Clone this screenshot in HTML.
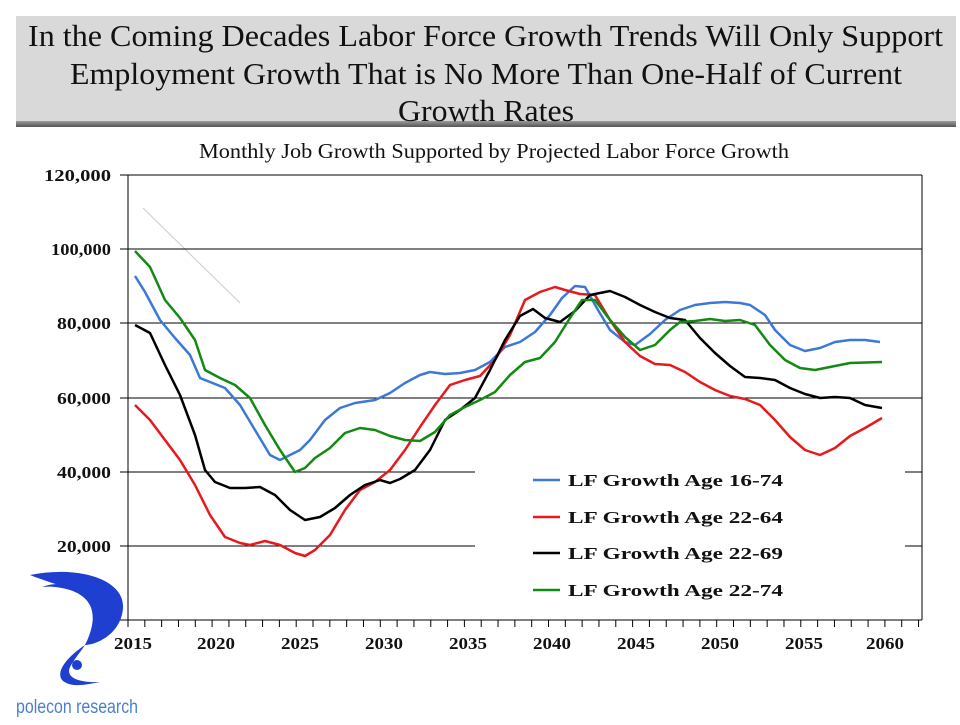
<!DOCTYPE html>
<html><head><meta charset="utf-8"><style>
body{margin:0;background:#fff;width:960px;height:720px;overflow:hidden;font-family:"Liberation Serif",serif}
</style></head><body>
<svg width="960" height="720" viewBox="0 0 960 720" xmlns="http://www.w3.org/2000/svg" font-family="Liberation Serif, serif">
<defs><linearGradient id="sh" x1="0" y1="0" x2="0" y2="1"><stop offset="0" stop-color="#9a9a9a"/><stop offset="1" stop-color="#555"/></linearGradient></defs>
<rect x="16" y="16" width="940" height="106" fill="#d9d9d9"/>
<rect x="16" y="121" width="940" height="6" fill="url(#sh)"/>
<g font-size="31" fill="#111">
<text x="28" y="46" textLength="915" lengthAdjust="spacingAndGlyphs">In the Coming Decades Labor Force Growth Trends Will Only Support</text>
<text x="70" y="84" textLength="832" lengthAdjust="spacingAndGlyphs">Employment  Growth That is No More Than One-Half of Current</text>
<text x="398" y="121" textLength="176" lengthAdjust="spacingAndGlyphs">Growth Rates</text>
</g>
<text x="199" y="158" font-size="21" fill="#111" textLength="590" lengthAdjust="spacingAndGlyphs">Monthly Job Growth Supported by Projected Labor Force Growth</text>
<line x1="143" y1="208" x2="240" y2="303" stroke="#ccc" stroke-width="1"/>
<g stroke="#000" stroke-width="1">
<line x1="128" y1="175" x2="922" y2="175"/>
<line x1="128" y1="249" x2="922" y2="249"/>
<line x1="128" y1="323" x2="922" y2="323"/>
<line x1="128" y1="398" x2="922" y2="398"/>
<line x1="128" y1="472" x2="475" y2="472"/><line x1="905" y1="472" x2="922" y2="472"/>
<line x1="128" y1="546" x2="475" y2="546"/><line x1="905" y1="546" x2="922" y2="546"/>
<line x1="922" y1="175" x2="922" y2="620"/>
<line x1="128" y1="175" x2="128" y2="621"/>
<line x1="128" y1="620" x2="922" y2="620"/>
<line x1="120" y1="175" x2="128" y2="175"/><line x1="120" y1="249" x2="128" y2="249"/><line x1="120" y1="323" x2="128" y2="323"/><line x1="120" y1="398" x2="128" y2="398"/><line x1="120" y1="472" x2="128" y2="472"/><line x1="120" y1="546" x2="128" y2="546"/><line x1="120" y1="620" x2="128" y2="620"/>
</g>
<g stroke="#000" stroke-width="1" id="ticks"></g>
<g font-size="17" font-weight="bold" fill="#111">
<text x="44" y="181" textLength="67" lengthAdjust="spacingAndGlyphs">120,000</text><text x="51" y="255" textLength="60" lengthAdjust="spacingAndGlyphs">100,000</text><text x="57" y="329" textLength="54" lengthAdjust="spacingAndGlyphs">80,000</text><text x="57" y="404" textLength="54" lengthAdjust="spacingAndGlyphs">60,000</text><text x="57" y="478" textLength="54" lengthAdjust="spacingAndGlyphs">40,000</text><text x="57" y="552" textLength="54" lengthAdjust="spacingAndGlyphs">20,000</text><text x="101" y="626">0</text>
</g>
<g font-size="17" font-weight="bold" fill="#111">
<text x="114" y="649" textLength="38" lengthAdjust="spacingAndGlyphs">2015</text><text x="197" y="649" textLength="38" lengthAdjust="spacingAndGlyphs">2020</text><text x="281" y="649" textLength="38" lengthAdjust="spacingAndGlyphs">2025</text><text x="365" y="649" textLength="38" lengthAdjust="spacingAndGlyphs">2030</text><text x="449" y="649" textLength="38" lengthAdjust="spacingAndGlyphs">2035</text><text x="533" y="649" textLength="38" lengthAdjust="spacingAndGlyphs">2040</text><text x="617" y="649" textLength="38" lengthAdjust="spacingAndGlyphs">2045</text><text x="701" y="649" textLength="38" lengthAdjust="spacingAndGlyphs">2050</text><text x="785" y="649" textLength="38" lengthAdjust="spacingAndGlyphs">2055</text><text x="866" y="649" textLength="38" lengthAdjust="spacingAndGlyphs">2060</text>
</g>
<g fill="none" stroke-width="2.5" stroke-linejoin="round">
<polyline stroke="#3c78d8" points="135,276 145,292 160,320 175,338 190,355 200,378 210,382 225,388 240,405 255,430 270,455 280,460 290,455 300,450 310,440 325,420 340,408 355,403 375,400 390,393 405,383 420,375 430,372 445,374 460,373 475,370 490,362 505,347 520,342 535,332 550,315 562,298 575,286 585,287 598,310 610,330 625,342 635,345 650,334 665,320 680,310 695,305 710,303 725,302 740,303 750,305 765,315 775,330 790,345 805,351 820,348 835,342 850,340 865,340 880,342"/>
<polyline stroke="#e8191c" points="135,405 150,420 165,440 180,460 195,485 210,515 225,537 240,543 250,545 265,541 280,545 295,553 305,556 315,550 330,535 345,510 360,490 375,482 390,470 405,450 420,427 435,405 450,385 465,380 480,376 495,360 510,335 525,300 540,292 555,287 565,290 580,294 595,295 610,320 625,342 640,356 655,364 670,365 685,372 700,382 715,390 730,396 745,399 760,405 775,420 790,437 805,450 820,455 835,448 850,436 865,428 882,418"/>
<polyline stroke="#000" points="135,325 150,333 165,365 180,395 195,435 205,470 215,482 230,488 245,488 260,487 275,495 290,510 305,520 320,517 335,508 350,495 365,485 380,480 390,483 400,479 415,470 430,450 445,420 460,410 475,398 490,370 505,340 520,316 533,309 545,318 560,322 575,311 590,295 610,291 625,297 640,305 655,312 670,318 685,320 700,338 715,353 730,366 745,377 760,378 775,380 790,388 805,394 820,398 835,397 850,398 865,405 882,408"/>
<polyline stroke="#138a12" points="135,251 150,267 165,300 180,318 195,340 205,370 220,378 235,385 250,398 265,425 280,450 295,472 305,468 315,458 330,448 345,433 360,428 375,430 390,436 405,440 420,441 435,432 450,415 465,407 480,400 495,392 510,375 525,362 540,358 555,342 570,318 582,300 595,300 610,320 625,337 640,350 655,345 670,330 680,322 695,321 710,319 725,321 740,320 755,325 770,345 785,360 800,368 815,370 830,367 850,363 882,362"/>
</g>
<g font-size="17" font-weight="bold" fill="#111">
<line x1="533" y1="480" x2="560" y2="480" stroke="#3c78d8" stroke-width="2.5"/><text x="568" y="486" textLength="215" lengthAdjust="spacingAndGlyphs">LF Growth Age 16-74</text>
<line x1="533" y1="517" x2="560" y2="517" stroke="#e8191c" stroke-width="2.5"/><text x="568" y="523" textLength="215" lengthAdjust="spacingAndGlyphs">LF Growth Age 22-64</text>
<line x1="533" y1="553" x2="560" y2="553" stroke="#000" stroke-width="2.5"/><text x="568" y="559" textLength="215" lengthAdjust="spacingAndGlyphs">LF Growth Age 22-69</text>
<line x1="533" y1="590" x2="560" y2="590" stroke="#138a12" stroke-width="2.5"/><text x="568" y="596" textLength="215" lengthAdjust="spacingAndGlyphs">LF Growth Age 22-74</text>
</g>
<g fill="#1f3fd0">
<path d="M30,575 C80,565 125,580 123,608 C121,635 95,645 85,645 C95,625 100,600 70,590 C60,587 50,586 42,587 C60,580 85,585 95,600 C80,590 55,585 30,575 Z"/>
<path d="M85,645 C70,655 55,670 62,680 C70,688 85,685 100,682 C80,683 65,678 70,667 C75,658 82,650 85,645 Z"/>
<circle cx="77" cy="665" r="5"/>
</g>
<text x="16" y="713" font-family="Liberation Sans, sans-serif" font-size="19" fill="#4a7fd0" textLength="122" lengthAdjust="spacingAndGlyphs">polecon research</text>
</svg>
<script>
var g=document.getElementById('ticks');
for(var i=0;i<=47;i++){var x=128+i*16.82;if(x>922)break;var l=document.createElementNS('http://www.w3.org/2000/svg','line');l.setAttribute('x1',x);l.setAttribute('x2',x);l.setAttribute('y1',620);l.setAttribute('y2',627);g.appendChild(l);}
</script>
</body></html>
